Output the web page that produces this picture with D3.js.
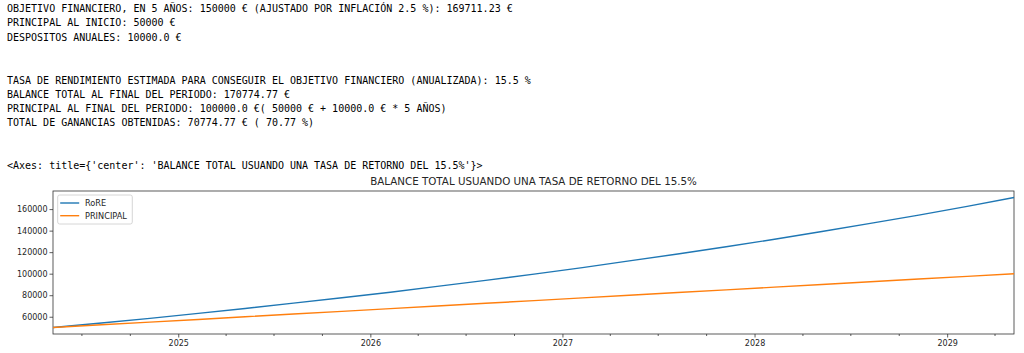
<!DOCTYPE html>
<html>
<head>
<meta charset="utf-8">
<script src="https://cdn.jsdelivr.net/npm/d3@7"></script>
<style>
  body { margin: 0; background: #fff; }
  svg text { fill: #262626; }
</style>
</head>
<body>
<div id="chart"></div>
<script>
const width = 1024
const height = 353
const margin = { top: 191, left: 53, right: 10, bottom: 19 }

// textos de salida
const outputLines = [
    "OBJETIVO FINANCIERO, EN 5 AÑOS: 150000 € (AJUSTADO POR INFLACIÓN 2.5 %): 169711.23 €",
    "PRINCIPAL AL INICIO: 50000 €",
    "DESPOSITOS ANUALES: 10000.0 €",
    "",
    "",
    "TASA DE RENDIMIENTO ESTIMADA PARA CONSEGUIR EL OBJETIVO FINANCIERO (ANUALIZADA): 15.5 %",
    "BALANCE TOTAL AL FINAL DEL PERIODO: 170774.77 €",
    "PRINCIPAL AL FINAL DEL PERIODO: 100000.0 €( 50000 € + 10000.0 € * 5 AÑOS)",
    "TOTAL DE GANANCIAS OBTENIDAS: 70774.77 € ( 70.77 %)",
    "",
    "",
    "<Axes: title={'center': 'BALANCE TOTAL USUANDO UNA TASA DE RETORNO DEL 15.5%'}>"
]
const chartTitle = "BALANCE TOTAL USUANDO UNA TASA DE RETORNO DEL 15.5%"

// datos (trimestrales)
const dates = [
    "2024-05-08", "2024-08-08", "2024-11-08", "2025-02-08",
    "2025-05-08", "2025-08-08", "2025-11-08", "2026-02-08",
    "2026-05-08", "2026-08-08", "2026-11-08", "2027-02-08",
    "2027-05-08", "2027-08-08", "2027-11-08", "2028-02-08",
    "2028-05-08", "2028-08-08", "2028-11-08", "2029-02-08",
    "2029-05-08"
]
const rore = [
    50000, 54200, 58500, 63100, 67700, 72600, 77600, 82800, 88200, 93800,
    99600, 105600, 111900, 118300, 125000, 132000, 139200, 146700, 154400, 162500,
    170775
]
const principal = [
    50000, 52500, 55000, 57500, 60000, 62500, 65000, 67500, 70000, 72500,
    75000, 77500, 80000, 82500, 85000, 87500, 90000, 92500, 95000, 97500,
    100000
]
const seriesNames = ["RoRE", "PRINCIPAL"]
const seriesColors = ["#1f77b4", "#ff7f0e"]
const yTicks = [60000, 80000, 100000, 120000, 140000, 160000]

const parse = d3.timeParse("%Y-%m-%d")
const dateValues = dates.map(parse)

const svg = d3.select("#chart").append("svg").attr("width", width).attr("height", height)

// texto de la consola
const textGroup = svg.append("g").attr("id", "textgroup")
textGroup.selectAll("text").data(outputLines)
    .enter()
    .append("text")
        .attr("x", 7)
        .attr("y", (d, i) => 12 + i * 14.3)
        .attr("font-family", "DejaVu Sans Mono, monospace")
        .attr("font-size", "10px")
        .style("fill", "#000")
        .attr("xml:space", "preserve")
        .text(d => d)

// escalas
const x = d3.scaleTime()
    .domain(d3.extent(dateValues))
    .range([margin.left, width - margin.right])

const allValues = rore.concat(principal)
const yMin = d3.min(allValues), yMax = d3.max(allValues)
const pad = (yMax - yMin) * 0.05
const y = d3.scaleLinear()
    .domain([yMin - pad, yMax + pad])
    .range([height - margin.bottom, margin.top])

// ejes
const yAxis = d3.axisLeft(y).tickValues(yTicks).tickFormat(d3.format("d")).tickSize(3.5).tickPadding(2)
const yAxisGroup = svg.append("g").attr("transform", `translate(${margin.left},0)`).call(yAxis)

const xAxis = d3.axisBottom(x).tickValues(d3.timeYear.range(d3.timeYear.ceil(x.domain()[0]), x.domain()[1]))
    .tickFormat(d3.timeFormat("%Y")).tickSize(3.5).tickPadding(3)
const xAxisGroup = svg.append("g").attr("transform", `translate(0,${height - margin.bottom})`).call(xAxis)

const minorTicks = d3.timeMonth.every(3).range(x.domain()[0], x.domain()[1])
    .filter(d => d.getMonth() !== 0)
const xMinor = d3.axisBottom(x).tickValues(minorTicks).tickFormat("").tickSize(2)
const xMinorGroup = svg.append("g").attr("transform", `translate(0,${height - margin.bottom})`).call(xMinor)

;[yAxisGroup, xAxisGroup, xMinorGroup].forEach(g => {
    g.select(".domain").remove()
    g.selectAll("line").attr("stroke", "#333").attr("stroke-width", 0.8)
    g.selectAll("text").attr("font-family", "DejaVu Sans, sans-serif").attr("font-size", "8px").attr("fill", "#262626")
})

// marco
svg.append("rect")
    .attr("x", margin.left).attr("y", margin.top)
    .attr("width", width - margin.right - margin.left)
    .attr("height", height - margin.bottom - margin.top)
    .attr("fill", "none").attr("stroke", "#333").attr("stroke-width", 0.8)

// lineas
const seriesData = [rore, principal]
const line = d3.line().x((d, i) => x(dateValues[i])).y(d => y(d))
const elementGroup = svg.append("g").attr("id", "elementgroup")
elementGroup.selectAll("path").data(seriesData)
    .enter()
    .append("path")
        .attr("d", d => line(d))
        .attr("fill", "none")
        .attr("stroke", (d, i) => seriesColors[i])
        .attr("stroke-width", 1.4)

// titulo
svg.append("text")
    .attr("x", (margin.left + width - margin.right) / 2)
    .attr("y", 185)
    .attr("text-anchor", "middle")
    .attr("font-family", "DejaVu Sans, sans-serif")
    .attr("font-size", "10.3px")
    .text(chartTitle)

// leyenda
const legend = svg.append("g").attr("transform", `translate(${margin.left + 4.7},${margin.top + 4})`)
legend.append("rect")
    .attr("width", 74.6).attr("height", 29).attr("rx", 2)
    .attr("fill", "#fff").attr("fill-opacity", 0.8)
    .attr("stroke", "#ccc").attr("stroke-width", 0.8)
const items = legend.selectAll("g.item").data(seriesNames)
    .enter().append("g").attr("class", "item")
    .attr("transform", (d, i) => `translate(0,${8 + i * 12.7})`)
items.append("line")
    .attr("x1", 2.5).attr("x2", 21.5).attr("y1", 0).attr("y2", 0)
    .attr("stroke", (d, i) => seriesColors[i]).attr("stroke-width", 1.4)
items.append("text")
    .attr("x", 27.3).attr("y", 2.9)
    .attr("font-family", "DejaVu Sans, sans-serif")
    .attr("font-size", "8.2px")
    .text(d => d)
</script>
</body>
</html>
